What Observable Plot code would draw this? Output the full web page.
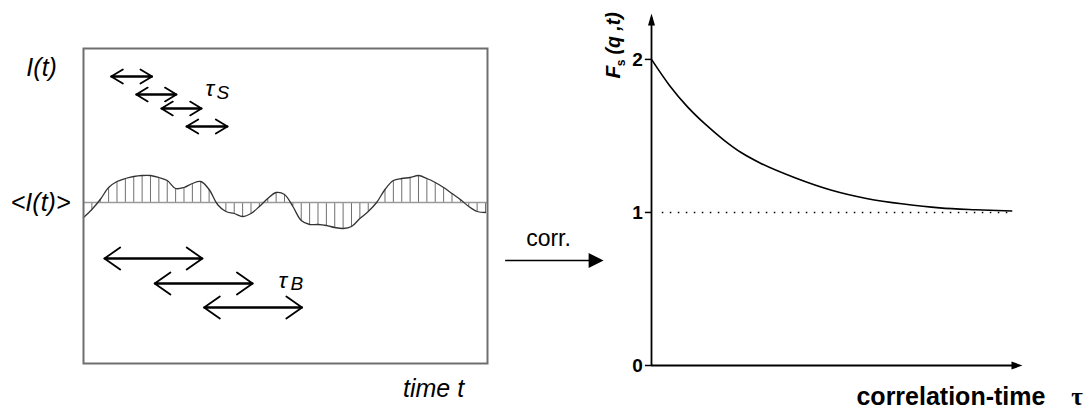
<!DOCTYPE html>
<html><head><meta charset="utf-8">
<script src="https://cdn.jsdelivr.net/npm/d3@7"></script>
<script src="https://cdn.jsdelivr.net/npm/@observablehq/plot@0.6"></script>
<style>
html,body{margin:0;padding:0;background:#fff;}
#wrap{position:relative;width:1091px;height:409px;overflow:hidden;display:flex;}
#wrap svg{display:block;flex:none;}
</style></head><body><div id="wrap"></div>
<script>
// ---------- Left panel data: fluctuation of intensity around its mean, equal time steps ----------
const intensity = [-1.5,-0.7,0.3,1.5,2.1,2.4,2.6,2.7,2.7,2.5,2.2,1.4,1.5,1.9,2.1,1.3,-0.2,-0.9,-1.1,-1.4,
  -1.1,-0.4,0.4,1.0,0.8,-0.4,-1.8,-2.2,-2.2,-2.3,-2.5,-2.6,-2.4,-1.6,-0.9,0.0,1.3,2.2,2.4,2.5,
  2.7,2.4,2.0,1.5,0.9,0.3,-0.4,-0.9,-1.0];
const meanLevel = 0;

// short (tau_S) and long (tau_B) time windows, in time-step units
const tauSStart = [3.3, 6.3, 9.3, 12.3];
const tauSEnd   = [8.2, 11.1, 14.1, 17.2];
const tauSLevel = [12.6, 10.8, 9.4, 7.6];
const tauBStart = [2.5, 8.5, 14.4];
const tauBEnd   = [14.2, 20.2, 26.1];
const tauBLevel = [-5.6, -8.1, -10.5];

// ---------- Right panel data: correlation function ----------
const corrTime  = [0, 0.5, 1, 1.5, 2, 2.5, 3, 4, 5, 6, 7, 8, 9, 10];
const corrValue = [2.0, 1.83, 1.69, 1.575, 1.475, 1.39, 1.325, 1.225, 1.145, 1.09, 1.055, 1.03, 1.018, 1.01];
const baseline  = 1;
const yTicks    = [0, 1, 2];

const FONT = "'Liberation Sans', Arial, Helvetica, sans-serif";

const signal = intensity.map((v, i) => ({t: i, v}));
const fwd = (s, e, l) => s.map((d, i) => ({x1: d, x2: e[i], y: l[i]}));
const tauS = fwd(tauSStart, tauSEnd, tauSLevel);
const tauB = fwd(tauBStart, tauBEnd, tauBLevel);
const both = arr => arr.concat(arr.map(d => ({x1: d.x2, x2: d.x1, y: d.y})));

const left = Plot.plot({
  width: 500, height: 409,
  marginLeft: 83, marginRight: 13, marginTop: 48, marginBottom: 46,
  x: {domain: [0, 48.24], axis: null},
  y: {domain: [-16.1, 15.4], axis: null},
  style: {fontFamily: FONT, color: "black", background: "white", overflow: "visible"},
  marks: [
    Plot.ruleX(signal, {x: "t", y1: meanLevel, y2: "v", stroke: "#707070", strokeWidth: 1}),
    Plot.ruleY([meanLevel], {stroke: "#9a9a9a", strokeWidth: 1.6}),
    Plot.line(signal, {x: "t", y: "v", curve: "catmull-rom", stroke: "#333", strokeWidth: 1.3}),
    Plot.frame({stroke: "#6e6e6e", strokeWidth: 2}),
    Plot.arrow(both(tauS), {x1: "x1", x2: "x2", y1: "y", y2: "y", stroke: "black", strokeWidth: 1.8, headAngle: 62, headLength: 16}),
    Plot.arrow(both(tauB), {x1: "x1", x2: "x2", y1: "y", y2: "y", stroke: "black", strokeWidth: 1.8, headAngle: 70, headLength: 16}),
    Plot.text(["I(t)"], {x: -5.0, y: 13.5, text: d => d, fontSize: 25, fontStyle: "italic", textAnchor: "middle"}),
    Plot.text(["<I(t)>"], {x: -1.55, y: meanLevel, text: d => d, fontSize: 25, fontStyle: "italic", textAnchor: "end"}),
    Plot.text(["time t"], {x: 41.8, y: -18.6, text: d => d, fontSize: 25, fontStyle: "italic", textAnchor: "middle"}),
    Plot.text(["τ"], {x: 14.57, y: 10.67, text: d => d, fontSize: 23, fontStyle: "italic", textAnchor: "start", lineAnchor: "bottom"}),
    Plot.text(["S"], {x: 15.88, y: 10.37, text: d => d, fontSize: 19, fontStyle: "italic", textAnchor: "start", lineAnchor: "bottom"}),
    Plot.text(["τ"], {x: 23.28, y: -8.53, text: d => d, fontSize: 23, fontStyle: "italic", textAnchor: "start", lineAnchor: "bottom"}),
    Plot.text(["B"], {x: 24.72, y: -8.73, text: d => d, fontSize: 19, fontStyle: "italic", textAnchor: "start", lineAnchor: "bottom"})
  ]
});

// filled arrowheads with the tip at the anchor point
const headUp = {draw(c) { c.moveTo(0, 0); c.lineTo(-3.5, 12); c.lineTo(3.5, 12); c.closePath(); }};
const headRight = {draw(c) { c.moveTo(0, 0); c.lineTo(-11, -4); c.lineTo(-11, 4); c.closePath(); }};
const headBig = {draw(c) { c.moveTo(0, 0); c.lineTo(-15, -7.5); c.lineTo(-15, 7.5); c.closePath(); }};

const curve = corrTime.map((t, i) => ({t, f: corrValue[i]}));

const right = Plot.plot({
  width: 591, height: 409,
  marginLeft: 151, marginRight: 69, marginTop: 13, marginBottom: 44,
  x: {domain: [0, 10.3], axis: null},
  y: {domain: [0, 2.3], axis: null},
  style: {fontFamily: FONT, color: "black", background: "white", overflow: "visible"},
  marks: [
    Plot.ruleY([baseline], {x1: 0.3, x2: 10, stroke: "black", strokeWidth: 1.6, strokeDasharray: "1.5,6.5"}),
    Plot.line(curve, {x: "t", y: "f", curve: "monotone-x", stroke: "black", strokeWidth: 1.6}),
    Plot.ruleX([0], {y1: 0, y2: 2.27, stroke: "black", strokeWidth: 1.8}),
    Plot.ruleY([0], {x1: 0, x2: 10.1, stroke: "black", strokeWidth: 1.8}),
    Plot.dot([0], {x: 0, y: 2.3, symbol: headUp, fill: "black", stroke: "none"}),
    Plot.dot([0], {x: 10.3, y: 0, symbol: headRight, fill: "black", stroke: "none"}),
    // y ticks and labels
    Plot.ruleY(yTicks, {x1: -0.17, x2: 0, stroke: "black", strokeWidth: 1.5}),
    Plot.text(yTicks, {x: -0.24, y: d => d, text: d => String(d), fontSize: 19, fontWeight: "bold", textAnchor: "end"}),
    // rotated y label  F_s (q ,t)
    Plot.text(["F"], {x: -1.05, y: 1.875, text: d => d, rotate: -90, fontSize: 21, fontWeight: "bold", fontStyle: "italic", textAnchor: "start"}),
    Plot.text(["s"], {x: -0.84, y: 1.955, text: d => d, rotate: -90, fontSize: 12, fontWeight: "bold", textAnchor: "start"}),
    Plot.text(["(q ,t)"], {x: -1.05, y: 2.032, text: d => d, rotate: -90, fontSize: 19.5, fontWeight: "bold", fontStyle: "italic", textAnchor: "start"}),
    // x label
    Plot.text(["correlation-time"], {x: 5.69, y: -0.255, text: d => d, fontSize: 25, fontWeight: "bold", textAnchor: "start", lineAnchor: "bottom"}),
    Plot.text(["τ"], {x: 11.65, y: -0.255, text: d => d, fontSize: 25, fontWeight: "bold", fontFamily: "'Liberation Serif', 'DejaVu Serif', serif", textAnchor: "start", lineAnchor: "bottom"}),
    // "corr." arrow between the panels
    Plot.ruleY([0.686], {x1: -4.05, x2: -1.6, stroke: "black", strokeWidth: 1.5}),
    Plot.dot([0], {x: -1.33, y: 0.686, symbol: headBig, fill: "black", stroke: "none"}),
    Plot.text(["corr."], {x: -2.86, y: 0.826, text: d => d, fontSize: 23, textAnchor: "middle"})
  ]
});

const wrap = document.getElementById("wrap");
wrap.appendChild(left);
wrap.appendChild(right);
</script>
</body></html>
